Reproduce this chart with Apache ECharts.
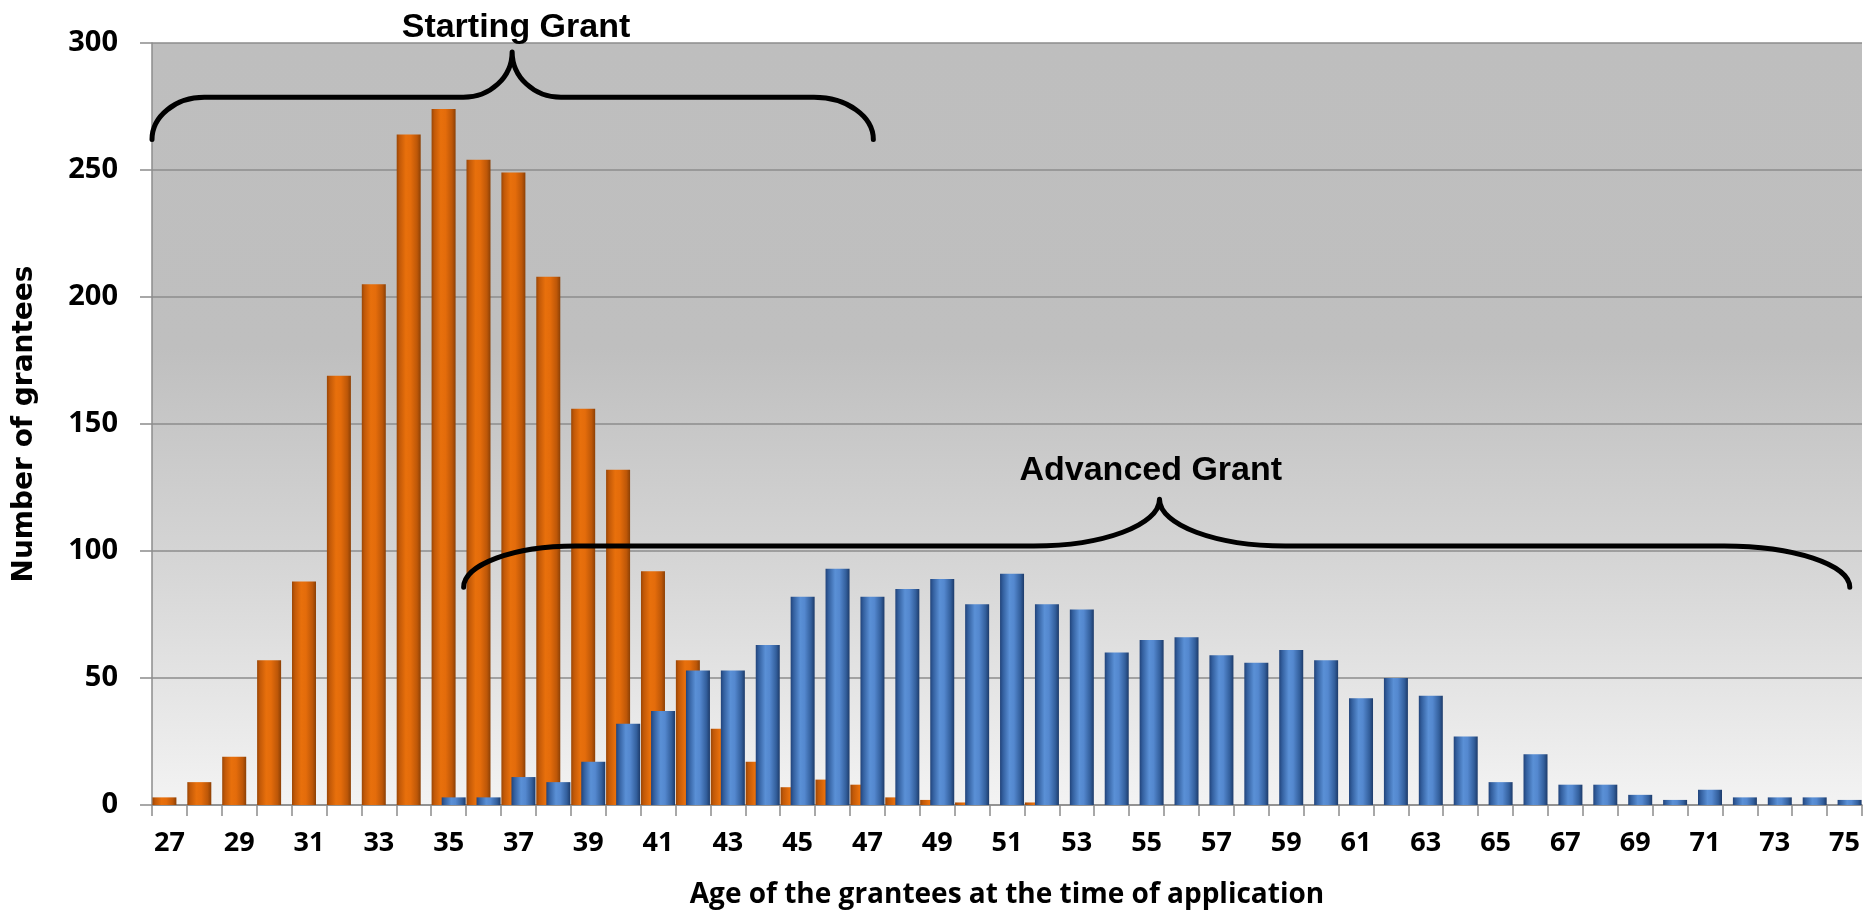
<!DOCTYPE html>
<html>
<head>
<meta charset="utf-8">
<script src="https://cdn.jsdelivr.net/npm/echarts@6/dist/echarts.min.js"></script>
<style>
html,body{margin:0;padding:0;background:#fff;}
#chart{width:1864px;height:918px;}
</style>
</head>
<body>
<div id="chart"></div>
<script>
// ---- data ----
const ages = ['27','28','29','30','31','32','33','34','35','36','37','38','39','40','41','42','43','44','45','46','47','48','49','50','51','52','53','54','55','56','57','58','59','60','61','62','63','64','65','66','67','68','69','70','71','72','73','74','75'];
const startingGrant = [3,9,19,57,88,169,205,264,274,254,249,208,156,132,92,57,30,17,7,10,8,3,2,1,0,1,0,0,0,0,0,0,0,0,0,0,0,0,0,0,0,0,0,0,0,0,0,0,0];
const advancedGrant = [0,0,0,0,0,0,0,0,3,3,11,9,17,32,37,53,53,63,82,93,82,85,89,79,91,79,77,60,65,66,59,56,61,57,42,50,43,27,9,20,8,8,4,2,6,3,3,3,2];
const seriesNames = ['Starting Grant','Advanced Grant'];
const yAxisTitle = 'Number of grantees';
const xAxisTitle = 'Age of the grantees at the time of application';

// brace annotations (category index units / value units)
const braces = [
  {label:'Starting Grant', from:-0.5, to:20.17, peak:9.82, endV:262, midV:278.6, peakV:296.5, rL:1.5, rR:1.7, rP:1.4, textX:9.93, textV:306},
  {label:'Advanced Grant', from:8.43, to:48.15, peak:28.37, endV:85.7, midV:102, peakV:120.4, rL:3.2, rR:3.6, rP:3.6, textX:28.12, textV:131.6}
];

const chart = echarts.init(document.getElementById('chart'), null, {renderer:'canvas'});
const LG = echarts.graphic.LinearGradient;

const orangeFill = new LG(0,0,1,0,[
  {offset:0,color:'#9a4606'},{offset:0.12,color:'#c25908'},{offset:0.38,color:'#e8700c'},
  {offset:0.58,color:'#e46c0b'},{offset:0.85,color:'#bd5708'},{offset:1,color:'#8c4005'}]);
const blueFill = new LG(0,0,1,0,[
  {offset:0,color:'#21437a'},{offset:0.12,color:'#335f9e'},{offset:0.4,color:'#5a90d6'},
  {offset:0.58,color:'#5488cf'},{offset:0.85,color:'#335f9c'},{offset:1,color:'#1d3b6a'}]);
const bgFill = new LG(0,0,0,1,[
  {offset:0,color:'#bebebe'},{offset:0.4,color:'#bfbfbf'},{offset:0.7,color:'#d7d7d7'},{offset:1,color:'#f3f3f3'}]);

function renderBrace(params, api){
  const b = braces[params.dataIndex];
  const p0 = api.coord([0,0]), p1 = api.coord([1,0]);
  const cw = p1[0]-p0[0];
  const X = i => p0[0] + i*cw;
  const Y = v => api.coord([0,v])[1];
  const x1 = X(b.from), x2 = X(b.to), xp = X(b.peak);
  const yE = Y(b.endV), yM = Y(b.midV), yP = Y(b.peakV);
  const rL = b.rL*cw, rR = b.rR*cw, rP = b.rP*cw;
  const k = 0.552;
  const dy = yE - yM, dh = yM - yP;
  const d = [
    'M', x1, yE,
    'C', x1, yE - k*dy, x1 + rL - k*rL, yM, x1 + rL, yM,
    'L', xp - rP, yM,
    'C', xp - rP + k*rP, yM, xp, yP + k*dh, xp, yP,
    'C', xp, yP + k*dh, xp + rP - k*rP, yM, xp + rP, yM,
    'L', x2 - rR, yM,
    'C', x2 - rR + k*rR, yM, x2, yE - k*dy, x2, yE
  ].join(' ');
  return {
    type:'group',
    children:[
      {type:'path', shape:{pathData:d}, style:{stroke:'#000', lineWidth:5, fill:null, lineCap:'round', lineJoin:'round'}},
      {type:'text', style:{text:b.label, x:X(b.textX), y:Y(b.textV), align:'center', verticalAlign:'middle',
        font:'bold 34px "Liberation Sans", Arial, sans-serif', fill:'#000'}}
    ]
  };
}

const gridColor = '#8c8c8c';
chart.setOption({
  animation:false,
  backgroundColor:'#ffffff',
  grid:{left:152, right:2, top:43, bottom:113, show:true, borderWidth:0, backgroundColor:bgFill},
  xAxis:{
    type:'category', data:ages, boundaryGap:true,
    name:xAxisTitle, nameLocation:'middle', nameGap:76,
    nameTextStyle:{fontFamily:'Open Sans', fontWeight:'bold', fontSize:28, color:'#000'},
    axisLine:{show:true, lineStyle:{color:gridColor, width:1.5}},
    axisTick:{show:true, interval:0, length:11, lineStyle:{color:gridColor, width:1.5}},
    axisLabel:{interval:1, margin:25, fontFamily:'Open Sans', fontWeight:'bold', fontSize:27, color:'#000'},
    splitLine:{show:false}
  },
  yAxis:{
    type:'value', min:0, max:300, interval:50,
    name:yAxisTitle, nameLocation:'middle', nameGap:113,
    nameTextStyle:{fontFamily:'DejaVu Sans', fontWeight:'bold', fontSize:28, color:'#000'},
    axisLine:{show:true, lineStyle:{color:gridColor, width:1.5}},
    axisTick:{show:true, length:12, lineStyle:{color:gridColor, width:1.5}},
    axisLabel:{margin:34, fontFamily:'Open Sans', fontWeight:'bold', fontSize:29, color:'#000'},
    splitLine:{show:true, lineStyle:{color:gridColor, width:1.5}}
  },
  series:[
    {name:seriesNames[0], type:'bar', data:startingGrant, barWidth:24, barGap:'-58%',
      itemStyle:{color:orangeFill}},
    {name:seriesNames[1], type:'bar', data:advancedGrant, barWidth:24, barGap:'-58%',
      itemStyle:{color:blueFill}},
    {type:'custom', data:[[0,0],[0,0]], renderItem:renderBrace, clip:false, z:10, silent:true}
  ]
});
</script>
</body>
</html>
